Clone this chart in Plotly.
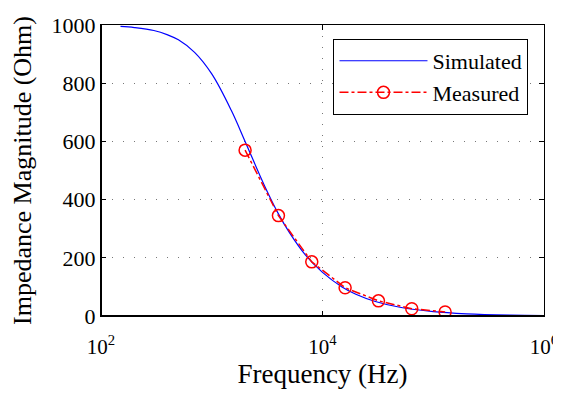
import plotly.graph_objects as go

# Simulated impedance curve
freq_sim = [150, 200, 300, 400, 500, 700, 1000, 1500, 2000, 3000, 4000, 5000,
            7000, 10000, 15000, 20000, 30000, 50000, 100000, 200000, 500000, 1000000]
z_sim = [995, 991, 981, 966, 949, 906, 832, 707, 600, 447, 351, 288,
         210, 150, 100, 75, 50, 30, 15, 7.5, 3, 1.5]

# Measured points
freq_meas = [2000, 4000, 8000, 16000, 32000, 64000, 128000]
z_meas = [570, 345, 186, 97, 52, 25, 14]

x_tickvals = [1e2, 1e4, 1e6]
x_ticktext = ["10<sup>2</sup>", "10<sup>4</sup>", "10<sup>6</sup>"]
y_tickvals = [0, 200, 400, 600, 800, 1000]

FONT = "Liberation Serif"

fig = go.Figure()
fig.add_trace(go.Scatter(x=freq_sim, y=z_sim, mode="lines", name="Simulated",
                         line=dict(color="#0000ff", width=1.2, shape="spline")))
fig.add_trace(go.Scatter(x=freq_meas, y=z_meas, mode="lines+markers", name="Measured",
                         line=dict(color="#ff0000", width=1.5, dash="dashdot"),
                         marker=dict(symbol="circle-open", size=12, color="#ff0000",
                                     line=dict(width=1.5))))

axis_common = dict(showline=True, linecolor="black", linewidth=1, mirror="ticks",
                   ticks="inside", ticklen=5, tickcolor="black", tickwidth=1,
                   showgrid=True, gridcolor="#777777", griddash="1px,10px", gridwidth=1,
                   zeroline=False, automargin=False)

fig.update_xaxes(type="log", range=[2, 6], tickvals=x_tickvals, ticktext=x_ticktext,
                 tickfont=dict(family=FONT, size=21, color="black"),
                 ticklabelstandoff=12, ticklabeloverflow="allow",
                 title=dict(text="Frequency (Hz)", font=dict(family=FONT, size=27, color="black"),
                            standoff=0),
                 **axis_common)
fig.update_yaxes(range=[0, 1000], tickvals=y_tickvals,
                 tickfont=dict(family=FONT, size=22, color="black"),
                 title=dict(text="Impedance Magnitude (Ohm)",
                            font=dict(family=FONT, size=26, color="black"), standoff=26),
                 **axis_common)

# thicker left and bottom axis lines
fig.add_shape(type="line", xref="paper", yref="paper", x0=0, x1=0, y0=0, y1=1,
              line=dict(color="black", width=2))
fig.add_shape(type="line", xref="paper", yref="paper", x0=0, x1=1, y0=0, y1=0,
              line=dict(color="black", width=2))

fig.update_layout(
    width=553, height=389,
    margin=dict(l=93, r=17, t=17, b=81),
    plot_bgcolor="white", paper_bgcolor="white",
    font=dict(family=FONT, color="black"),
    legend=dict(x=0.965, y=0.952, xanchor="right", yanchor="top",
                bgcolor="white", bordercolor="black", borderwidth=1,
                font=dict(family=FONT, size=22, color="black"),
                itemwidth=88, tracegroupgap=0),
    showlegend=True,
)

fig.write_html("out.html")
